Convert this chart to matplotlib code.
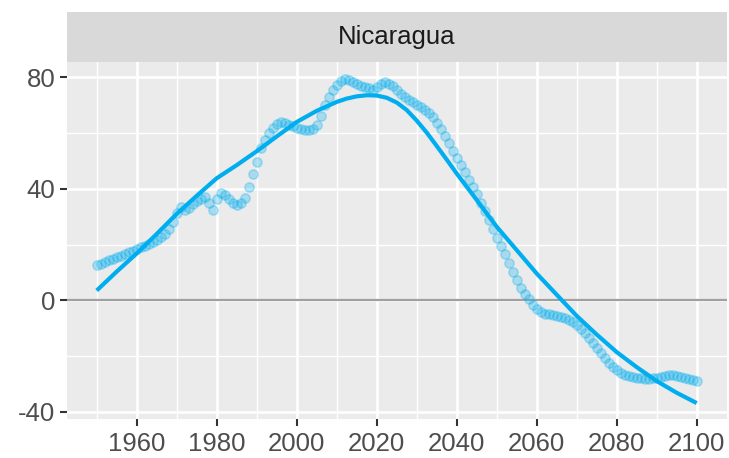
import numpy as np
import matplotlib
matplotlib.use("Agg")
import matplotlib.pyplot as plt

# ---- data ----
country = "Nicaragua"
years = list(range(1950, 2101))
values = [
    12.8, 13.2, 13.8, 14.4, 14.9, 15.4, 16.0, 16.6, 17.2, 17.8,   # 1950-1959
    18.4, 19.0, 19.6, 20.3, 20.9, 21.6, 22.6, 23.8, 25.5, 28.0,   # 1960-1969
    31.5, 33.5, 32.4, 33.0, 34.5, 35.5, 36.5, 37.1, 35.0, 32.4,   # 1970-1979
    36.5, 38.4, 37.7, 36.5, 35.0, 34.2, 35.0, 36.6, 40.5, 45.5,   # 1980-1989
    49.5, 54.5, 57.5, 60.0, 62.0, 63.2, 64.0, 63.8, 63.0, 62.5,   # 1990-1999
    62.0, 61.6, 61.2, 61.0, 61.5, 63.0, 66.0, 70.0, 72.8, 75.5,   # 2000-2009
    77.2, 78.8, 79.6, 79.2, 78.2, 77.5, 77.0, 76.7, 76.2, 75.6,   # 2010-2019
    76.5, 77.8, 78.4, 77.8, 76.8, 75.5, 74.0, 72.8, 71.8, 71.0,   # 2020-2029
    70.2, 69.3, 68.3, 67.3, 65.8, 63.8, 61.5, 59.0, 56.3, 53.5,   # 2030-2039
    51.0, 48.5, 46.0, 43.2, 40.5, 38.0, 35.0, 32.0, 28.8, 25.6,   # 2040-2049
    22.5, 19.5, 16.6, 13.5, 10.3, 7.2, 4.5, 2.3, 0.3, -1.8,       # 2050-2059
    -3.3, -4.3, -4.8, -5.0, -5.3, -5.6, -6.0, -6.4, -7.0, -7.8,   # 2060-2069
    -8.9, -10.3, -11.8, -13.5, -15.2, -17.0, -19.0, -20.8, -22.5, -24.0,  # 2070-2079
    -25.0, -26.0, -26.7, -27.3, -27.6, -27.8, -28.0, -28.1, -28.1, -28.0,  # 2080-2089
    -27.9, -27.6, -27.1, -26.8, -26.9, -27.2, -27.5, -27.8, -28.2, -28.5,  # 2090-2099
    -28.8,                                                       # 2100
]
smooth_years = [
    1950, 1955, 1960, 1965, 1970, 1975, 1980, 1985, 1990, 1995,
    2000, 2005, 2010, 2012.5, 2015, 2017.5, 2020, 2022.5, 2025, 2027.5,
    2030, 2032.5, 2035, 2037.5, 2040, 2045, 2050, 2055, 2060, 2065,
    2070, 2075, 2080, 2085, 2090, 2095, 2100,
]
smooth_values = [
    3.5, 10.3, 16.8, 23.8, 31.0, 37.5, 43.8, 48.5, 53.5, 58.8,
    64.0, 68.0, 71.2, 72.4, 73.2, 73.6, 73.5, 72.7, 71.0, 68.3,
    64.5, 60.2, 55.4, 50.5, 45.5, 36.0, 26.4, 18.0, 9.6, 2.0,
    -5.6, -12.3, -18.6, -24.0, -29.0, -33.2, -36.9,
]
x_ticks = [1960, 1980, 2000, 2020, 2040, 2060, 2080, 2100]
y_ticks = [-40, 0, 40, 80]

# ---- style ----
plt.rcParams['font.family'] = ['Liberation Sans', 'DejaVu Sans']
plt.rcParams['axes.unicode_minus'] = False
BLUE = '#00AEEF'
W, H = 729, 458
fig = plt.figure(figsize=(W / 100, H / 100), dpi=100)

left, right = 66.7 / W, 726.7 / W
top_px, bot_px = 62.3, 419.3
ax = fig.add_axes([left, 1 - bot_px / H, right - left, (bot_px - top_px) / H])
strip = fig.add_axes([left, 1 - top_px / H, right - left, (top_px - 11.7) / H])

ax.set_facecolor('#EBEBEB')
for s in ax.spines.values():
    s.set_visible(False)

xs = np.array(years)
ys = np.array(values)
xmin, xmax = xs.min(), xs.max()
xr = xmax - xmin
ax.set_xlim(xmin - 0.05 * xr, xmax + 0.05 * xr)
ymin = min(ys.min(), min(smooth_values))
ymax = max(ys.max(), max(smooth_values))
yr = ymax - ymin
ax.set_ylim(ymin - 0.05 * yr, ymax + 0.05 * yr)

ax.set_xticks(x_ticks)
ax.set_yticks(y_ticks)
ax.set_xticks([t - 10 for t in x_ticks], minor=True)
ax.set_yticks([-20, 20, 60], minor=True)
ax.grid(which='major', color='white', linewidth=1.9)
ax.grid(which='minor', color='white', linewidth=1.0)
ax.set_axisbelow(True)
ax.tick_params(which='major', length=5, width=1.5, color='#333333',
               labelsize=18.5, labelcolor='#4D4D4D')
ax.tick_params(axis='x', pad=4)
ax.tick_params(axis='y', pad=3)
ax.tick_params(which='minor', length=0)

ax.axhline(0, color='#A0A0A0', linewidth=1.6, zorder=2)
ax.scatter(xs, ys, s=44, facecolor=BLUE, edgecolor=BLUE, alpha=0.28,
           linewidths=1.2, zorder=3)
ax.plot(smooth_years, smooth_values, color=BLUE, linewidth=3.0,
        solid_capstyle='butt', solid_joinstyle='round', zorder=4)

strip.set_facecolor('#D9D9D9')
strip.set_xticks([])
strip.set_yticks([])
for s in strip.spines.values():
    s.set_visible(False)
strip.text(0.5, 0.5, country, ha='center', va='center', fontsize=18.5,
           color='#1A1A1A', transform=strip.transAxes)

fig.savefig('out.png', dpi=100, facecolor='white')
